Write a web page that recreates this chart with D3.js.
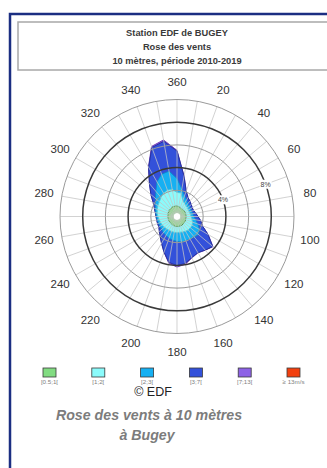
<!DOCTYPE html>
<html>
<head>
<meta charset="utf-8">
<script src="https://cdn.jsdelivr.net/npm/d3@7"></script>
<style>
  body { margin: 0; background: #fff; }
  svg { display: block; font-family: "Liberation Sans", Arial, sans-serif; }
</style>
</head>
<body>
<div id="rose"></div>
<script>
// wind directions (degrees, 0 = north)
var directions = [0, 10, 20, 30, 40, 50, 60, 70, 80, 90, 100, 110, 120, 130, 140, 150, 160, 170,
                  180, 190, 200, 210, 220, 230, 240, 250, 260, 270, 280, 290, 300, 310, 320, 330, 340, 350];

var speedClasses = ["[0.5;1[", "[1;2[", "[2;3[", "[3;7[", "[7;13[", "\u2265 13m/s"];

// frequency (%) per direction, one array per speed class
var speed05to1 = [0.62, 0.57, 0.53, 0.49, 0.49, 0.49, 0.49, 0.49, 0.49, 0.49, 0.49, 0.49, 0.53, 0.53, 0.53, 0.57, 0.57, 0.57,
                  0.57, 0.57, 0.53, 0.53, 0.49, 0.49, 0.49, 0.49, 0.49, 0.49, 0.49, 0.53, 0.53, 0.57, 0.57, 0.62, 0.62, 0.62];
var speed1to2 =   [1.19, 1.23, 0.66, 0.53, 0.44, 0.40, 0.35, 0.35, 0.40, 0.44, 0.53, 0.66, 0.70, 0.70, 0.70, 0.62, 0.57, 0.53,
                   0.53, 0.53, 0.57, 0.57, 0.62, 0.66, 0.70, 0.75, 0.79, 0.88, 0.97, 1.01, 1.10, 1.15, 1.32, 1.45, 1.54, 1.50];
var speed2to3 =   [1.23, 0.35, 0.44, 0.35, 0.26, 0.22, 0.22, 0.22, 0.22, 0.26, 0.35, 0.48, 0.75, 0.93, 0.84, 0.79, 0.84, 0.88,
                   0.79, 0.71, 0.62, 0.53, 0.44, 0.31, 0.22, 0.18, 0.18, 0.13, 0.13, 0.18, 0.26, 0.44, 0.70, 1.15, 1.50, 1.63];
var speed3to7 =   [2.42, 1.13, 0.44, 0.26, 0.26, 0.22, 0.18, 0.18, 0.26, 0.35, 0.44, 0.44, 0.86, 1.64, 1.48, 1.39, 1.55, 1.90,
                   2.14, 1.98, 1.31, 0.79, 0.44, 0.26, 0.13, 0.09, 0.05, 0.04, 0.04, 0.09, 0.22, 0.53, 0.88, 1.47, 2.50, 2.67];
var speed7to13 =  [0.06, 0.02, 0, 0, 0, 0, 0, 0, 0, 0, 0, 0, 0.02, 0.03, 0.02, 0.02, 0.04, 0.08,
                   0.12, 0.08, 0.01, 0, 0, 0, 0, 0, 0, 0, 0, 0, 0, 0, 0, 0.03, 0.10, 0.12];
var speedOver13 = [0, 0, 0, 0, 0, 0, 0, 0, 0, 0, 0, 0, 0, 0, 0, 0, 0, 0,
                   0, 0, 0, 0, 0, 0, 0, 0, 0, 0, 0, 0, 0, 0, 0, 0, 0, 0];

var ringTicks = [2, 4, 6, 8, 10];
var labelledRings = [4, 8];
var angleLabels = [360, 20, 40, 60, 80, 100, 120, 140, 160, 180, 200, 220, 240, 260, 280, 300, 320, 340];

var titleLines = ["Station EDF de BUGEY", "Rose des vents", "10 m\u00e8tres, p\u00e9riode 2010-2019"];

var fills = ["#82dc82", "#8bfbfb", "#16b0f2", "#3351da", "#8d62e6", "#f2400f"];
var strokes = ["#3c8c3c", "#55c8d8", "#1088c8", "#20309a", "#6a40c0", "#c03010"];

var width = 327, height = 468;
var cx = 177, cy = 216.5;

var svg = d3.select('#rose').append('svg')
  .attr('width', width)
  .attr('height', height);

// outer frame (right side falls outside the crop)
svg.append('path')
  .attr('d', 'M10,' + height + 'V14H350')
  .attr('fill', 'none')
  .attr('stroke', '#1b2e82')
  .attr('stroke-width', 2.5);

// title box
svg.append('rect')
  .attr('x', 18).attr('y', 22)
  .attr('width', 330).attr('height', 48)
  .attr('fill', 'none')
  .attr('stroke', '#a8a8a8')
  .attr('stroke-width', 1.5);

svg.selectAll('text.title')
  .data(titleLines)
  .join('text')
    .attr('class', 'title')
    .attr('x', cx)
    .attr('y', (d, i) => 36 + i * 13.8)
    .attr('text-anchor', 'middle')
    .attr('font-size', 9.3)
    .attr('font-weight', 'bold')
    .attr('fill', '#3a3a3a')
    .text(d => d);

var r = d3.scaleLinear().domain([0, 10]).range([3.5, 117]);
var angle = d3.scaleLinear().domain([0, 360]).range([0, 2 * Math.PI]);

var g = svg.append('g')
  .attr('transform', 'translate(' + cx + ',' + cy + ')');

// stacked table
var classArrays = [speed05to1, speed1to2, speed2to3, speed3to7, speed7to13, speedOver13];
var rows = directions.map((dir, i) => {
  var row = { dir: dir };
  speedClasses.forEach((k, j) => { row[k] = classArrays[j][i]; });
  return row;
});
var series = d3.stack().keys(speedClasses)(rows);

var line = d3.lineRadial()
  .angle(d => angle(d.data.dir))
  .radius(d => r(d[1]))
  .curve(d3.curveLinearClosed);

g.selectAll('path.layer')
  .data(series.slice().reverse())
  .join('path')
    .attr('class', 'layer')
    .attr('d', line)
    .attr('fill', d => fills[d.index])
    .attr('stroke', d => d.index === 5 ? 'none' : strokes[d.index])
    .attr('stroke-width', 0.9)
    .attr('stroke-linejoin', 'round');

// calm centre
g.append('circle')
  .attr('r', r(0))
  .attr('fill', '#fff');

// spokes
g.selectAll('line.spoke')
  .data(directions)
  .join('line')
    .attr('class', 'spoke')
    .attr('x1', d => r(0) * Math.sin(angle(d)))
    .attr('y1', d => -r(0) * Math.cos(angle(d)))
    .attr('x2', d => r(10) * Math.sin(angle(d)))
    .attr('y2', d => -r(10) * Math.cos(angle(d)))
    .attr('stroke', '#c4c4c4')
    .attr('stroke-opacity', 0.85)
    .attr('stroke-width', 0.9);

// rings
g.selectAll('circle.ring')
  .data(ringTicks)
  .join('circle')
    .attr('class', 'ring')
    .attr('r', d => r(d))
    .attr('fill', 'none')
    .attr('stroke', d => labelledRings.includes(d) ? '#3a3a3a' : '#9a9a9a')
    .attr('stroke-width', d => labelledRings.includes(d) ? 1.5 : 1);

// ring labels at 70 deg
var ringLab = g.selectAll('g.ringlab')
  .data(labelledRings)
  .join('g')
    .attr('class', 'ringlab')
    .attr('transform', d => 'translate(' + (r(d) * Math.sin(angle(70))) + ',' + (-r(d) * Math.cos(angle(70))) + ')');

ringLab.append('rect')
  .attr('x', -6).attr('y', -4.5)
  .attr('width', 12).attr('height', 9)
  .attr('fill', '#fff');

ringLab.append('text')
  .attr('text-anchor', 'middle')
  .attr('dy', '0.35em')
  .attr('font-size', 7)
  .attr('fill', '#444')
  .text(d => d + '%');

// direction labels
g.selectAll('text.dir')
  .data(angleLabels)
  .join('text')
    .attr('class', 'dir')
    .attr('x', d => 135 * Math.sin(angle(d)))
    .attr('y', d => -135 * Math.cos(angle(d)))
    .attr('dy', '0.36em')
    .attr('text-anchor', 'middle')
    .attr('font-size', 11.5)
    .attr('fill', '#333')
    .text(d => d);

// legend
var lx = d3.scalePoint().domain(speedClasses).range([49.5, 293.5]);

svg.selectAll('rect.key')
  .data(speedClasses)
  .join('rect')
    .attr('class', 'key')
    .attr('x', d => lx(d) - 6.5)
    .attr('y', 368)
    .attr('width', 13)
    .attr('height', 9)
    .attr('fill', (d, i) => fills[i])
    .attr('stroke', '#3a3a3a')
    .attr('stroke-width', 0.8);

svg.selectAll('text.key')
  .data(speedClasses)
  .join('text')
    .attr('class', 'key')
    .attr('x', d => lx(d))
    .attr('y', 384)
    .attr('text-anchor', 'middle')
    .attr('font-size', 6.2)
    .attr('fill', '#808080')
    .text(d => d);

svg.append('text')
  .attr('x', 153).attr('y', 396)
  .attr('text-anchor', 'middle')
  .attr('font-size', 12.5)
  .attr('fill', '#222')
  .text('\u00a9 EDF');

svg.append('text')
  .attr('x', 149).attr('y', 420)
  .attr('text-anchor', 'middle')
  .attr('font-size', 14.2)
  .attr('font-style', 'italic')
  .attr('font-weight', 'bold')
  .attr('fill', '#7c7c7c')
  .text('Rose des vents \u00e0 10 m\u00e8tres');

svg.append('text')
  .attr('x', 147).attr('y', 440)
  .attr('text-anchor', 'middle')
  .attr('font-size', 14.2)
  .attr('font-style', 'italic')
  .attr('font-weight', 'bold')
  .attr('fill', '#7c7c7c')
  .text('\u00e0 Bugey');
</script>
</body>
</html>
